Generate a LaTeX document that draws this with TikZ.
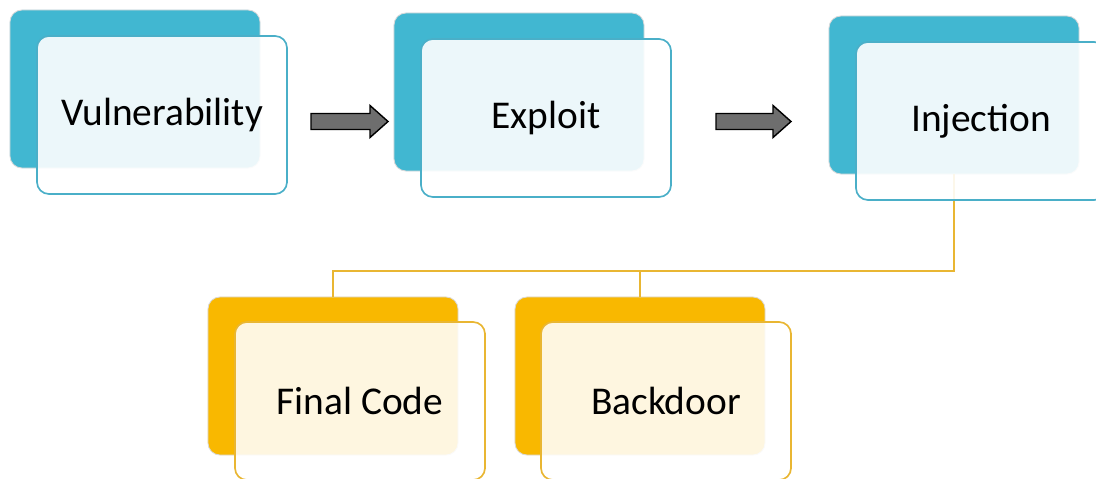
\documentclass[tikz,border=0pt]{standalone}
\usepackage{fontspec}
\setmainfont{Carlito}
\usetikzlibrary{positioning}

\definecolor{tealb}{HTML}{41B7D1}
\definecolor{tealf}{HTML}{4AAFC8}
\definecolor{goldb}{HTML}{F9B800}
\definecolor{goldf}{HTML}{E9B632}
\definecolor{arrgray}{HTML}{6E6E6E}

\begin{document}
\begin{tikzpicture}[x=0.025cm, y=-0.025cm,
	card/.style={minimum width=6.25cm, minimum height=3.95cm, rounded corners=0.3cm},
	backt/.style={card, draw=black!15, line width=0.6pt, fill=tealb},
	fronts/.style={card, draw=tealf, line width=1.2pt, fill=white, fill opacity=0.9, text opacity=1,
		font=\fontsize{28}{32}\selectfont},
	backy/.style={card, draw=black!15, line width=0.6pt, fill=goldb},
	fronty/.style={card, draw=goldf, line width=1.2pt, fill=white, fill opacity=0.88, text opacity=1,
		font=\fontsize{28}{32}\selectfont},
	link/.style={draw=goldf, line width=1.4pt},
	blk/.style={draw=black, line width=1pt, fill=arrgray, line join=miter}]
	\useasboundingbox (0,0) rectangle (1096,479);
	% back cards
	\node [backt] (vB) at (135,89) {};
	\node [backt] (eB) at (519,92) {};
	\node [backt] (iB) at (954,95) {};
	\node [backy] (fB) at (333,376) {};
	\node [backy] (bB) at (640,376) {};
	% tree from Injection
	\coordinate (j) at (954,271);
	\draw [link] (iB.south) -- (j) -| (fB.north);
	\draw [link] (bB.north) -- (bB.north |- j);
	% front cards
	\node [fronts] (vF) at (162,115) {Vulnerability};
	\node [fronts] (eF) at (546,118) {Exploit};
	\node [fronts] (iF) at (981,121) {Injection};
	\node [fronty] (fF) at (360,401) {Final Code};
	\node [fronty] (bF) at (666,401) {Backdoor};
	% block arrows
	\coordinate (a1) at (311,121.5);
	\coordinate (a2) at (716,121.5);
	\draw [blk] (a1) ++(0,-8) -- ++(59,0) -- ++(0,-8) -- ++(18,16) -- ++(-18,16) -- ++(0,-8) -- ++(-59,0) -- cycle;
	\draw [blk] (a2) ++(0,-8) -- ++(57,0) -- ++(0,-8) -- ++(18,16) -- ++(-18,16) -- ++(0,-8) -- ++(-57,0) -- cycle;
\end{tikzpicture}
\end{document}
